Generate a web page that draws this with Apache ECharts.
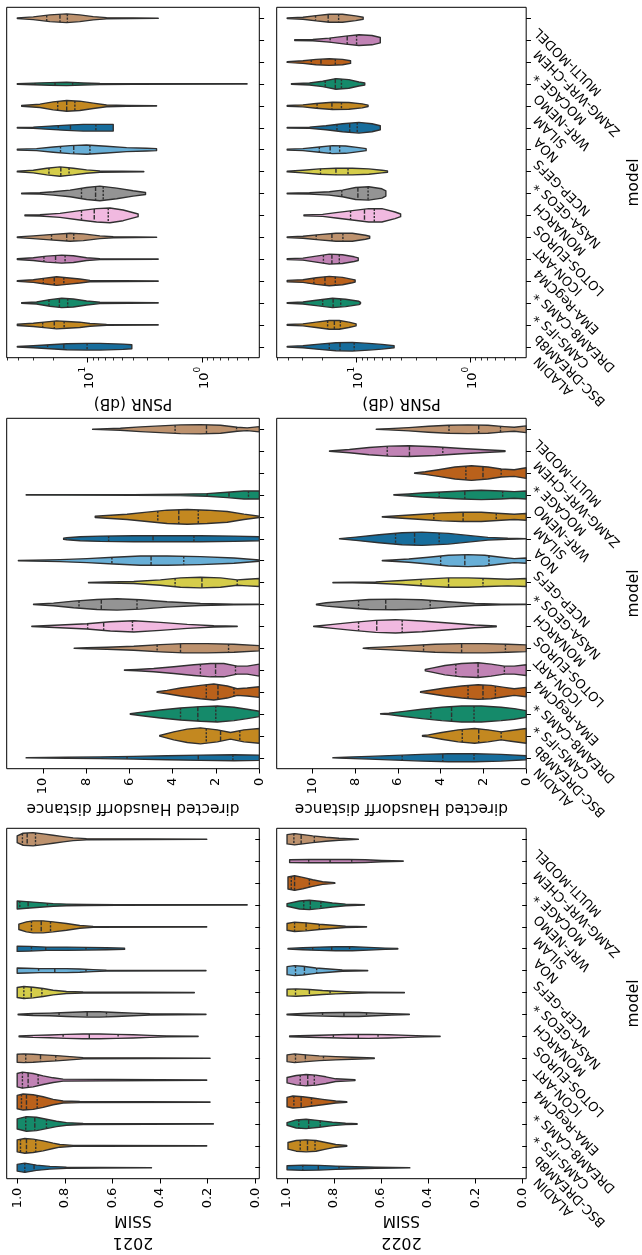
<!DOCTYPE html>
<html><head><meta charset="utf-8">
<script src="https://cdn.jsdelivr.net/npm/echarts@6/dist/echarts.min.js"></script>
<style>html,body{margin:0;padding:0;background:#fff;overflow:hidden}#c{width:642px;height:1255px}</style>
</head><body><div id="c"></div><script>
// ---------- data ----------
const models = ['ALADIN','BSC-DREAM8b','CAMS-IFS *','DREAM8-CAMS *','EMA-RegCM4','ICON-ART','LOTOS-EUROS','MONARCH','NASA-GEOS *','NCEP-GEFS','NOA','SILAM','WRF-NEMO','MOCAGE *','ZAMG-WRF-CHEM','MULTI-MODEL'];
const years = ['2021', '2022'];
const metricNames = ['PSNR (dB)', 'directed Hausdorff distance', 'SSIM'];
const ssimTicks = [0, 0.2, 0.4, 0.6, 0.8, 1.0];
const hausTicks = [0, 2, 4, 6, 8, 10];
const psnrMajorTicks = [1, 10];
const psnrMinorTicks = [0.4, 0.5, 0.6, 0.7, 0.8, 0.9, 2, 3, 4, 5, 6, 7, 8, 9, 20, 30, 40, 50];

// violin outlines: [value, density] knots; quartiles: [q1, median, q3]
const ssim2021Shape = [
 [[1.0,10],[.968,14],[.919,8],[.863,4],[.793,2],[.653,1],[.436,.5]],
 [[1.0,18],[.968,22],[.933,20],[.891,15],[.849,8],[.821,4],[.765,1.5],[.653,1],[.204,.5]],
 [[1.0,15],[.961,22],[.919,20],[.877,14],[.835,8],[.793,4],[.723,1.5],[.176,.5]],
 [[1.0,20],[.975,24],[.933,22],[.891,16],[.849,8],[.807,3],[.737,1.5],[.190,.5]],
 [[1.0,20],[.978,24],[.933,20],[.891,13],[.849,7],[.807,3],[.204,.5]],
 [[1.0,12],[.972,13],[.933,12],[.891,10],[.835,8],[.779,5],[.723,2],[.190,.5]],
 [[.992,1],[.933,3],[.863,4],[.793,6],[.723,7],[.653,7],[.583,6],[.513,5],[.443,3],[.373,1.5],[.240,.5]],
 [[.996,1],[.933,3],[.863,4],[.793,6],[.709,8],[.653,8],[.583,6],[.513,4],[.443,2],[.207,.5]],
 [[1.0,15],[.972,18],[.933,16],[.891,12],[.849,7],[.793,3],[.723,1.5],[.256,.5]],
 [[1.0,8],[.961,7],[.905,6],[.849,6],[.793,6],[.737,5],[.681,3],[.625,1.5],[.207,.5]],
 [[1.0,8],[.947,7],[.877,5],[.793,5],[.709,4],[.625,3],[.549,2]],
 [[.993,8],[.961,15],[.933,18],[.891,18],[.849,15],[.793,10],[.737,4],[.681,1.5],[.204,.5]],
 [[1.0,12],[.961,10],[.905,7],[.849,4],[.793,2.5],[.709,1.5],[.583,1],[.034,.5]],
 null, null,
 [[1.0,10],[.975,18],[.933,20],[.891,16],[.849,12],[.807,8],[.765,4],[.709,2],[.204,.5]]
];
const ssim2021Quart = [[.797,.929,.968],[.922,.961,.986],[.877,.926,.964],[.916,.961,.982],[.912,.954,.978],[.838,.902,.964],[.576,.697,.807],[.625,.706,.824],[.896,.941,.972],[.711,.842,.910],[.711,.880,.940],[.860,.899,.940],[.873,.954,.989],null,null,[.923,.958,.978]];

const ssim2022Shape = [
 [[1.0,6],[.933,8],[.863,7],[.793,5],[.709,3],[.625,2],[.478,.5]],
 [[.996,10],[.961,16],[.919,18],[.877,16],[.835,10],[.793,4],[.746,1]],
 [[1.0,4],[.961,12],[.919,14],[.863,10],[.807,5],[.751,2],[.702,.8]],
 [[1.0,14],[.975,18],[.933,16],[.891,12],[.849,8],[.793,3],[.746,1]],
 [[1.0,8],[.961,14],[.919,17],[.877,15],[.835,10],[.793,4],[.711,1]],
 [[1.0,10],[.968,13],[.919,10],[.863,7],[.793,5],[.723,3],[.629,1]],
 [[.989,1],[.905,2.5],[.821,4],[.737,5.5],[.653,6],[.569,5],[.485,3],[.415,1.5],[.349,.5]],
 [[1.0,1],[.933,3],[.849,5],[.765,6],[.695,6],[.625,4],[.555,2],[.480,.5]],
 [[1.0,10],[.961,11],[.905,9],[.849,6],[.793,4],[.723,2],[.653,1],[.501,.4]],
 [[1.0,12],[.968,15],[.933,13],[.877,8],[.821,5],[.765,2],[.657,.5]],
 [[.996,1],[.933,3],[.863,5],[.793,6],[.723,6],[.653,4],[.583,2],[.529,1]],
 [[1.0,10],[.968,14],[.919,12],[.863,8],[.807,5],[.751,2],[.662,.5]],
 [[1.0,4],[.947,12],[.905,14],[.863,11],[.807,6],[.751,2.5],[.671,.5]],
 [[.996,18],[.968,22],[.933,17],[.891,10],[.849,4],[.797,1]],
 [[.989,4],[.905,5],[.821,5],[.737,5],[.667,4],[.597,2],[.506,.5]],
 [[1.0,14],[.968,17],[.933,14],[.891,10],[.835,6],[.779,3],[.697,.5]]
];
const ssim2022Quart = [[.779,.867,.933],[.881,.913,.944],[.859,.908,.950],[.896,.940,.971],[.884,.912,.944],[.845,.922,.964],[.613,.697,.803],[.662,.758,.849],[.817,.905,.964],[.874,.926,.964],[.734,.810,.891],[.863,.919,.968],[.856,.901,.929],[.905,.968,.982],[.725,.817,.908],[.884,.940,.971]];

const haus2021Shape = [
 [[0,8],[1.17,9],[2.72,8],[4.26,6],[5.80,4],[7.35,2.5],[8.89,1.5],[10.77,.5]],
 [[0,22],[.71,18],[1.33,10],[1.94,18],[2.72,24],[3.33,20],[3.95,12],[4.60,1]],
 [[0,8],[.56,14],[1.17,20],[1.94,24],[2.72,22],[3.64,18],[4.57,12],[5.34,6],[5.96,1]],
 [[0,16],[.56,12],[1.02,10],[1.48,18],[2.10,24],[2.72,20],[3.64,12],[4.26,5],[4.72,1]],
 [[0,18],[.56,12],[1.02,12],[1.64,20],[2.25,20],[3.02,16],[3.95,10],[4.88,5],[5.65,2],[6.23,.5]],
 [[0,8],[1.17,12],[2.41,14],[3.49,14],[4.57,11],[5.80,6],[7.04,3],[7.96,1.5],[8.55,.5]],
 [[1.02,.5],[2.10,2],[3.33,6],[4.57,12],[5.80,17],[6.88,14],[7.96,8],[9.20,4],[9.97,2],[10.51,.5]],
 [[0,.5],[1.17,1],[2.72,3],[4.26,8],[5.49,14],[6.57,17],[7.50,15],[8.58,10],[9.51,4],[10.43,.5]],
 [[0,12],[.56,10],[1.02,8],[1.79,14],[2.72,16],[3.64,14],[4.57,8],[5.80,3],[7.04,1.5],[7.89,.5]],
 [[0,2],[1.17,8],[2.72,12],[4.26,14],[5.49,14],[6.73,10],[7.96,6],[9.20,3],[10.43,1.5],[11.13,.5]],
 [[0,6],[1.17,8],[2.72,9],[4.26,9],[5.80,9],[7.35,8],[8.27,6],[8.89,3],[9.04,2]],
 [[0,2],[.71,8],[1.48,16],[2.41,20],[3.33,22],[4.26,20],[5.19,14],[6.11,8],[7.04,4],[7.58,2]],
 [[0,12],[.71,12],[1.48,8],[2.41,4],[3.64,2],[5.80,1],[8.89,.6],[10.77,.4]],
 null, null,
 [[0,8],[.56,4],[1.02,6],[1.79,12],[2.72,14],[3.64,13],[4.57,10],[5.49,7],[6.42,3],[7.35,1],[7.70,.5]]
];
const haus2021Quart = [[1.22,2.82,6.11],[.90,1.79,2.45],[2.01,2.84,3.64],[1.17,1.91,2.45],[1.10,2.02,2.72],[1.42,3.64,4.72],[5.86,7.19,7.93],[5.65,7.30,8.33],[1.02,2.65,3.89],[3.49,5.00,6.81],[3.02,4.91,6.96],[2.82,3.72,4.69],[.50,1.40,2.41],null,null,[1.05,2.44,3.89]];

const haus2022Shape = [
 [[0,6],[1.17,10],[2.41,12],[3.64,12],[4.88,10],[6.11,7],[7.35,4],[8.43,2],[9.04,.5]],
 [[0,22],[.71,16],[1.17,12],[1.79,18],[2.41,22],[3.18,18],[3.95,10],[4.57,3],[4.85,1]],
 [[0,10],[.56,16],[1.17,20],[2.10,24],[3.02,24],[3.95,20],[4.88,14],[5.80,7],[6.42,2],[6.81,.5]],
 [[0,14],[.56,10],[1.02,14],[1.64,20],[2.25,22],[3.02,18],[3.80,12],[4.41,6],[4.94,1]],
 [[0,16],[.56,12],[1.02,12],[1.64,18],[2.25,22],[3.02,20],[3.80,14],[4.41,6],[4.72,2]],
 [[0,10],[.86,12],[1.94,14],[3.02,14],[4.26,12],[5.49,8],[6.57,4],[7.35,2],[7.62,.5]],
 [[1.40,1],[2.41,4],[3.64,10],[4.88,16],[6.11,20],[7.04,18],[8.12,12],[9.04,6],[9.66,2],[9.94,.5]],
 [[0,.5],[1.17,1],[2.41,3],[3.64,8],[4.88,14],[6.11,16],[7.35,15],[8.43,10],[9.35,5],[9.81,1]],
 [[0,12],[.86,10],[1.79,12],[2.72,14],[3.64,14],[4.57,11],[5.80,6],[7.04,2],[8.12,1],[9.04,.5]],
 [[0,8],[.56,6],[1.17,10],[1.94,16],[2.72,18],[3.64,16],[4.57,10],[5.49,5],[6.27,2],[6.73,.5]],
 [[0,.5],[.86,1.5],[1.79,4],[2.72,10],[3.64,16],[4.88,20],[5.80,18],[6.88,12],[7.96,5],[8.73,.5]],
 [[0,10],[.56,8],[1.17,10],[2.10,14],[3.02,14],[3.95,12],[4.88,8],[5.80,4],[6.73,.5]],
 [[0,12],[.56,10],[1.17,12],[2.10,14],[3.02,12],[3.95,9],[4.88,6],[5.49,3],[6.19,.5]],
 [[0,16],[.56,10],[1.17,12],[1.79,18],[2.56,22],[3.33,18],[4.10,10],[4.72,4],[5.22,.5]],
 [[.99,1],[1.94,4],[3.02,8],[4.26,13],[5.49,16],[6.42,15],[7.35,11],[8.27,5],[8.89,2],[9.20,.5]],
 [[0,10],[.56,6],[1.02,8],[1.79,12],[2.72,13],[3.64,12],[4.57,9],[5.49,5],[6.42,2],[7.01,.5]]
];
const haus2022Quart = [[2.44,3.90,5.80],[1.17,2.22,2.99],[2.44,3.49,4.46],[1.44,2.02,2.72],[1.02,2.25,3.29],[.97,3.02,4.80],[5.80,6.99,7.84],[4.49,6.57,7.84],[2.02,3.63,4.92],[1.74,2.87,4.00],[4.07,5.22,6.11],[1.40,2.95,4.32],[1.10,2.87,4.07],[1.17,2.02,2.82],[3.90,5.46,6.50],[1.20,2.22,3.61]];

const psnr2021Shape = [
 [[40.9,1],[29.7,3],[21.3,6],[15.2,9],[10.2,10],[7.81,10],[4.90,8],[4.12,6]],
 [[40.9,2],[29.7,5],[22.7,9],[18.6,12],[15.2,10],[11.7,8],[9.54,4],[6.84,1.5],[2.43,.5]],
 [[37.5,1],[27.8,3],[21.3,10],[16.8,14],[13.3,12],[10.2,6],[7.81,2],[2.43,.5]],
 [[40.9,1],[29.7,4],[24.3,8],[18.6,13],[15.2,10],[11.7,6],[9.54,2],[2.43,.5]],
 [[40.9,1],[29.7,4],[22.7,9],[16.8,12],[13.3,10],[10.2,4],[7.81,1.5],[2.43,.5]],
 [[40.9,1],[29.7,4],[21.3,8],[14.2,12],[10.9,10],[7.81,4],[5.98,1.5],[2.51,.5]],
 [[35.1,1],[26.0,2],[17.4,6],[11.7,14],[8.35,20],[6.39,22],[4.90,16],[3.63,4]],
 [[37.5,1],[26.0,2],[19.9,5],[14.2,10],[10.2,18],[7.81,22],[5.59,16],[4.01,8],[3.13,3]],
 [[40.9,1],[29.7,4],[22.7,10],[17.4,14],[13.3,10],[10.2,5],[7.81,2],[3.24,.5]],
 [[40.9,1],[27.8,3],[19.9,8],[14.2,12],[10.2,14],[6.84,10],[4.58,6],[3.07,4],[2.51,3]],
 [[40.9,1],[29.7,2],[21.3,5],[15.2,8],[10.9,10],[7.81,10],[5.98,10]],
 [[37.5,1],[26.0,5],[19.9,12],[15.2,16],[11.7,14],[8.93,8],[6.84,2.5],[4.58,1],[2.51,.5]],
 [[40.9,1],[29.7,2.5],[21.3,4],[15.2,5],[10.9,3],[7.81,1.5],[4.01,1],[0.409,.4]],
 null, null,
 [[40.9,1],[29.7,4],[21.3,10],[15.2,13],[11.7,10],[8.93,5],[6.84,2],[2.43,.5]]
];
const psnr2021Quart = [[10.1,16.1,22.3],[16.0,19.5,24.6],[14.9,17.6,21.7],[16.1,19.5,24.3],[15.7,19.0,24.0],[13.2,15.2,20.6],[6.61,8.75,11.3],[7.31,8.52,11.3],[14.5,17.1,21.7],[9.54,13.2,17.2],[8.47,14.1,18.0],[12.9,15.2,18.2],[13.5,19.2,28.7],null,null,[15.0,17.4,22.7]];

const psnr2022Shape = [
 [[40.9,1],[29.7,3],[21.3,8],[15.2,12],[10.9,13],[7.81,10],[5.98,7],[4.67,3]],
 [[40.9,1],[29.7,3],[22.7,8],[17.4,13],[14.2,13],[11.7,8],[10.1,3]],
 [[40.9,1],[29.7,3],[22.7,8],[16.3,14],[12.5,11],[9.54,5],[9.23,2]],
 [[40.9,2],[29.7,4],[22.7,10],[17.4,14],[13.3,11],[10.9,5],[10.3,3]],
 [[40.9,1],[29.7,3],[22.7,9],[17.4,15],[13.3,13],[10.5,7],[9.67,4]],
 [[40.9,1],[29.7,3],[21.3,8],[15.2,12],[10.9,12],[8.35,6],[7.66,3]],
 [[29.1,1],[19.9,3],[15.2,8],[10.9,14],[7.81,20],[5.98,20],[4.58,10],[4.09,4]],
 [[40.9,1],[26.0,2],[17.4,5],[13.3,10],[10.2,18],[7.81,20],[5.98,14],[5.52,8]],
 [[40.9,1],[29.7,4],[21.3,8],[15.2,10],[10.9,10],[7.81,8],[5.98,4],[5.34,2]],
 [[40.9,1],[29.7,3],[21.3,8],[16.3,12],[12.5,11],[9.54,6],[8.24,3]],
 [[40.9,1],[26.0,2],[18.6,6],[13.3,12],[9.54,16],[7.31,12],[6.18,6]],
 [[40.9,1],[29.7,3],[22.7,7],[16.3,11],[11.7,10],[8.93,6],[7.92,2]],
 [[37.5,1],[26.0,3],[19.9,8],[15.2,16],[11.7,13],[9.54,6],[8.47,3]],
 [[40.9,1],[29.7,4],[22.7,8],[17.4,10],[13.3,8],[11.3,4]],
 [[35.1,1],[24.3,2],[17.4,6],[12.5,12],[9.54,16],[7.31,14],[6.18,8]],
 [[40.9,1],[29.7,3],[22.7,8],[17.4,12],[13.3,12],[10.2,7],[8.75,3]]
];
const psnr2022Quart = [[10.5,14.0,17.4],[13.9,15.7,18.0],[13.8,16.1,19.9],[15.4,19.0,23.8],[14.2,16.5,19.6],[13.2,16.5,22.7],[6.98,8.52,11.3],[7.92,9.74,13.5],[11.9,15.2,20.8],[14.1,17.1,21.3],[9.87,11.5,14.9],[13.6,16.5,22.3],[13.6,15.4,18.9],[15.4,20.6,25.1],[10.0,12.1,17.1],[14.4,17.8,23.0]];

// ---------- styling ----------
const FONT = 'DejaVu Sans';
const EDGE = '#303030';
const palette = ['#176d9c','#c38820','#158a6a','#ba611b','#c183b5','#bd926e','#f1b9e0','#949494','#d5cd4a','#68afd7'];
const DENS_FULL = 26.25;   // density reading that fills the 0.4 half-band
const gridLeft = [6.7, 276.7], gridW = 252.6, gridTop = [7.3, 418.3, 828.3], gridH = 350.4;

const rows = [
  {type: 'log', min: 0.32, max: 50.6, ticks: psnrMajorTicks, minor: psnrMinorTicks, gap: 31,
   sets: [[psnr2021Shape, psnr2021Quart], [psnr2022Shape, psnr2022Quart]]},
  {type: 'value', min: 0, max: 11.67, ticks: hausTicks, gap: 24,
   sets: [[haus2021Shape, haus2021Quart], [haus2022Shape, haus2022Quart]]},
  {type: 'value', min: -0.017, max: 1.044, ticks: ssimTicks, gap: 30,
   sets: [[ssim2021Shape, ssim2021Quart], [ssim2022Shape, ssim2022Quart]]}
];

function interp(pts, x) {
  for (let j = 0; j < pts.length - 1; j++) {
    const a = pts[j], b = pts[j + 1];
    const lo = Math.min(a[0], b[0]), hi = Math.max(a[0], b[0]);
    if (x >= lo && x <= hi) {
      const t = hi === lo ? 0 : (x - a[0]) / (b[0] - a[0]);
      return a[1] + t * (b[1] - a[1]);
    }
  }
  return 0;
}

function makeRender(shapes, quarts) {
  return function (params, api) {
    const i = api.value(1);
    const shape = shapes[i], q = quarts[i];
    const c0 = api.coord([shape[0][0], i]);
    const c1 = api.coord([shape[0][0], i + 1]);
    const band = Math.abs(c1[1] - c0[1]);
    const k = 0.4 * band / DENS_FULL;
    const cy = c0[1];
    const pts = shape.map(s => [api.coord([s[0], i])[0], s[1] * k]);
    const poly = pts.map(p => [p[0], cy - p[1]]).concat(pts.slice().reverse().map(p => [p[0], cy + p[1]]));
    const children = [{type: 'polygon', shape: {points: poly},
      style: {fill: palette[i % palette.length], stroke: EDGE, lineWidth: 1.4, lineJoin: 'round'}}];
    q.forEach((v, j) => {
      const x = api.coord([v, i])[0];
      const hw = interp(pts, x);
      children.push({type: 'line', shape: {x1: x, y1: cy - hw, x2: x, y2: cy + hw},
        style: {stroke: EDGE, lineWidth: 1.4, lineDash: j === 1 ? [4.5, 1.5] : [2.2, 1.4]}});
    });
    return {type: 'group', children: children};
  };
}

const grid = [], xAxis = [], yAxis = [], series = [];
rows.forEach((row, r) => {
  years.forEach((yr, c) => {
    const g = grid.length;
    grid.push({left: gridLeft[c], top: gridTop[r], width: gridW, height: gridH, show: true,
      borderColor: '#000', borderWidth: 1, backgroundColor: 'transparent'});
    let name = metricNames[r];
    let nameStyle = {fontFamily: FONT, fontSize: 15.4, color: '#000', lineHeight: 20};
    if (r === 2) {
      name = '{y|' + yr + '}\n{m|' + metricNames[r] + '}';
      nameStyle = {fontFamily: FONT, color: '#000', rich: {
        y: {fontFamily: FONT, fontSize: 16, lineHeight: 24, color: '#000'},
        m: {fontFamily: FONT, fontSize: 15.4, lineHeight: 20, color: '#000'}}};
    }
    const xi = xAxis.length;
    xAxis.push({
      gridIndex: g, type: row.type, logBase: 10, inverse: true, position: 'bottom',
      min: row.min, max: row.max,
      axisLine: {show: false}, splitLine: {show: false},
      axisTick: {show: true, customValues: row.ticks, length: 4.8, lineStyle: {color: '#000', width: 1}},
      axisLabel: {show: true, customValues: row.ticks, rotate: 90, margin: 9, color: '#000',
        fontFamily: FONT, fontSize: 13,
        formatter: row.type === 'log'
          ? (v => '{b|10}{s|' + Math.round(Math.log10(v)) + '}')
          : (r === 2 ? (v => v.toFixed(1)) : (v => String(Math.round(v)))),
        rich: {b: {fontFamily: FONT, fontSize: 13, color: '#000', lineHeight: 18, verticalAlign: 'bottom'},
               s: {fontFamily: FONT, fontSize: 9, color: '#000', lineHeight: 18, verticalAlign: 'top'}}},
      name: name, nameLocation: 'middle', nameRotate: 180, nameGap: row.gap, nameTextStyle: nameStyle
    });
    if (row.minor) {
      xAxis.push({
        gridIndex: g, type: 'log', logBase: 10, inverse: true, position: 'bottom',
        min: row.min, max: row.max,
        axisLine: {show: false}, splitLine: {show: false}, axisLabel: {show: false},
        axisTick: {show: true, customValues: row.minor, length: 2.8, lineStyle: {color: '#000', width: 0.8}}
      });
    }
    yAxis.push({
      gridIndex: g, type: 'category', data: models, position: 'right',
      axisLine: {show: false}, splitLine: {show: false},
      axisTick: {show: true, alignWithLabel: true, length: 4.8, lineStyle: {color: '#000', width: 1}},
      axisLabel: {show: c === 1, interval: 0, rotate: 135, margin: 8, padding: [0, 10, 0, 0],
        verticalAlign: 'bottom', color: '#000', fontFamily: FONT, fontSize: 13},
      name: c === 1 ? 'model' : '', nameLocation: 'middle', nameRotate: 90, nameGap: 97,
      nameTextStyle: {fontFamily: FONT, fontSize: 15.4, color: '#000'}
    });
    const shapes = row.sets[c][0], quarts = row.sets[c][1];
    const data = [];
    shapes.forEach((s, i) => { if (s) data.push([quarts[i][1], i]); });
    series.push({
      type: 'custom', xAxisIndex: xi, yAxisIndex: g, data: data, encode: {x: 0, y: 1},
      renderItem: makeRender(shapes, quarts), silent: true, clip: false
    });
  });
});

const chart = echarts.init(document.getElementById('c'), null, {renderer: 'canvas'});
chart.setOption({animation: false, backgroundColor: '#fff', grid, xAxis, yAxis, series});
</script></body></html>
